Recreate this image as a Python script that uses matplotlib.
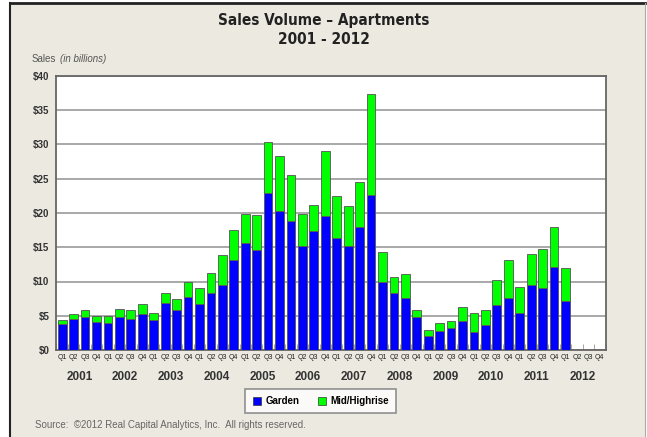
import numpy as np
import matplotlib
matplotlib.use("Agg")
import matplotlib.pyplot as plt
from matplotlib.patches import Rectangle
from matplotlib.lines import Line2D

# quarterly sales, $ billions (2001 Q1 .. 2012 Q1)
years = [str(y) for y in range(2001, 2013)]
quarters = ["Q1", "Q2", "Q3", "Q4"]
garden = [3.8, 4.5, 4.8, 4.1,
          3.9, 4.8, 4.55, 5.3,
          4.45, 6.8, 5.9, 7.8,
          6.65, 8.3, 9.5, 13.1,
          15.6, 14.6, 22.9, 20.3,
          18.9, 15.2, 17.3, 19.6,
          16.3, 15.2, 17.9, 22.6,
          10.0, 8.3, 7.6, 4.8,
          2.0, 2.8, 3.2, 4.3,
          2.7, 3.6, 6.5, 7.6,
          5.4, 9.5, 9.1, 12.1,
          7.2]
total = [4.4, 5.3, 5.8, 4.95,
         4.95, 6.05, 5.8, 6.75,
         5.35, 8.25, 7.4, 10.0,
         9.0, 11.25, 13.9, 17.55,
         19.9, 19.7, 30.3, 28.3,
         25.6, 19.9, 21.2, 29.0,
         22.45, 21.0, 24.5, 37.3,
         14.3, 10.6, 11.1, 5.8,
         2.95, 3.9, 4.3, 6.25,
         5.4, 5.9, 10.2, 13.2,
         9.2, 14.05, 14.8, 18.0,
         11.9]
midhigh = [t - g for t, g in zip(total, garden)]
yticks = [0, 5, 10, 15, 20, 25, 30, 35, 40]

W, H = 647, 437
fig = plt.figure(figsize=(W / 100, H / 100), dpi=100, facecolor="white")

def fx(px):
    return px / W

def fy(py):
    return 1 - py / H

# beige panel with dark top/left border
fig.patches.append(Rectangle((fx(10), 0), fx(645) - fx(10), fy(3), transform=fig.transFigure,
                             facecolor="#ECE9E0", edgecolor="none", zorder=-2))
fig.lines.append(Line2D([fx(10), fx(10)], [0, fy(3)], transform=fig.transFigure, color="#222222", lw=1.5))
fig.lines.append(Line2D([fx(10), fx(645)], [fy(3), fy(3)], transform=fig.transFigure, color="#222222", lw=2))
fig.lines.append(Line2D([fx(645), fx(645)], [0, fy(3)], transform=fig.transFigure, color="#AAAAAA", lw=0.8))

ax = fig.add_axes([fx(56.5), fy(350), fx(605.5) - fx(56.5), fy(76) - fy(350)])
ax.set_facecolor("white")

n_slots = len(years) * 4
x = np.arange(len(garden))
ax.bar(x, garden, width=0.76, color="#0000FF", edgecolor="#555555", linewidth=0.6, zorder=3)
ax.bar(x, midhigh, bottom=garden, width=0.76, color="#00FF00", edgecolor="#555555", linewidth=0.6, zorder=3)

ax.set_xlim(-0.5, n_slots - 0.5)
ax.set_ylim(0, 40)
ax.set_yticks(yticks)
ax.set_yticklabels(["$%d" % v for v in yticks], fontsize=7, fontweight="bold",
                   color="#333333", family="Liberation Sans")
ax.yaxis.grid(True, color="#999999", lw=1.2, zorder=0)
ax.tick_params(axis="y", length=0, pad=5)

ax.set_xticks(np.arange(n_slots))
ax.set_xticklabels(quarters * len(years), fontsize=5, color="#222222", family="Liberation Sans")
ax.tick_params(axis="x", length=0, pad=3)
ax.set_xticks(np.arange(n_slots + 1) - 0.5, minor=True)
ax.tick_params(axis="x", which="minor", direction="in", length=4, color="#999999")

for i, yr in enumerate(years):
    ax.text(i * 4 + 1.5, -0.1, yr, transform=ax.get_xaxis_transform(), ha="center", va="center",
            fontsize=8.5, fontweight="bold", color="#333333", family="Liberation Sans")

for s in ax.spines.values():
    s.set_color("#666666")
    s.set_linewidth(1.3)

fig.text(0.5, fy(20), "Sales Volume \u2013 Apartments", ha="center", va="center",
         fontsize=11, fontweight="bold", fontstretch="condensed", color="#222222", family="DejaVu Sans")
fig.text(0.5, fy(39), "2001 - 2012", ha="center", va="center",
         fontsize=11, fontweight="bold", fontstretch="condensed", color="#222222", family="DejaVu Sans")

# axis caption: "Sales" then italic "(in billions)" right after it
t_sales = fig.text(fx(32), fy(59), "Sales", ha="left", va="center", fontsize=7, color="#555555",
                   family="Liberation Sans")
fig.add_artist(matplotlib.text.Annotation("(in billions)", xy=(1, 0.5), xycoords=t_sales,
                                          xytext=(2.5, 0), textcoords="offset points",
                                          ha="left", va="center", fontsize=7, style="italic",
                                          color="#555555", family="Liberation Sans"))

handles = [Line2D([], [], marker="s", ls="none", markersize=5.5, markerfacecolor="#0000FF",
                  markeredgecolor="#333333", markeredgewidth=0.5),
           Line2D([], [], marker="s", ls="none", markersize=5.5, markerfacecolor="#00FF00",
                  markeredgecolor="#333333", markeredgewidth=0.5)]
leg = fig.legend(handles, ["Garden", "Mid/Highrise"], loc="center", bbox_to_anchor=(fx(320.5), fy(401)),
                 ncol=2, frameon=True, fancybox=False, handletextpad=0.4, columnspacing=1.8,
                 borderpad=0.7, handlelength=1.0, borderaxespad=0,
                 prop={"size": 7, "weight": "bold", "family": "Liberation Sans"})
leg.get_frame().set_edgecolor("#777777")
leg.get_frame().set_linewidth(1.2)
leg.get_frame().set_facecolor("white")

fig.text(fx(35), fy(425), "Source:  \u00a92012 Real Capital Analytics, Inc.  All rights reserved.",
         ha="left", va="center", fontsize=7, color="#666666", family="Liberation Sans")

fig.savefig("out.png", dpi=100, facecolor=fig.get_facecolor())
